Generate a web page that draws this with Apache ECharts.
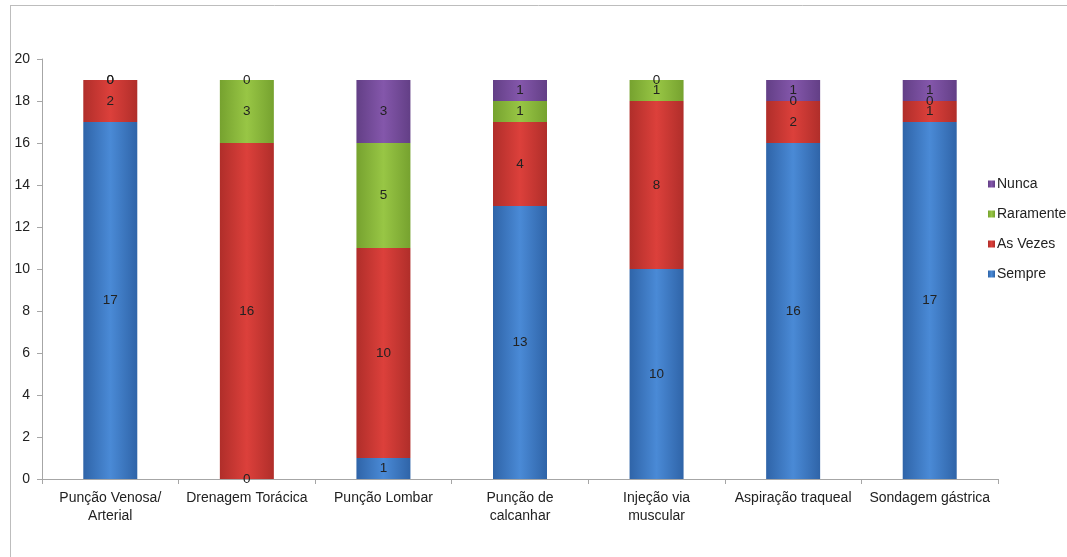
<!DOCTYPE html>
<html><head><meta charset="utf-8">
<script src="https://cdn.jsdelivr.net/npm/echarts@6/dist/echarts.min.js"></script>
<style>html,body{margin:0;padding:0;background:#fff}#c{width:1067px;height:557px}</style>
</head><body><div id="c"></div>
<script>
var categories = ['Punção Venosa/\nArterial','Drenagem Torácica','Punção Lombar','Punção de\ncalcanhar','Injeção via\nmuscular','Aspiração traqueal','Sondagem gástrica'];
var sempre = [17, 0, 1, 13, 10, 16, 17];
var asVezes = [2, 16, 10, 4, 8, 2, 1];
var raramente = [0, 3, 5, 1, 1, 0, 0];
var nunca = [0, 0, 3, 1, 0, 1, 1];
var yTicks = [0, 2, 4, 6, 8, 10, 12, 14, 16, 18, 20];

function grad(c1, c2, c3){
  return new echarts.graphic.LinearGradient(0,0,1,0,[{offset:0,color:c1},{offset:0.5,color:c2},{offset:1,color:c3}]);
}
var font = 'Liberation Sans, Arial, sans-serif';
function mk(name, data, c1, c2, c3){
  return {
    name: name, type: 'bar', stack: 'total', data: data, barWidth: 54,
    itemStyle: {color: grad(c1,c2,c3), borderWidth: 0},
    label: {show: true, position: 'inside', color: '#222', fontSize: 13.5, fontFamily: font,
      formatter: function(p){return String(p.value);}},
    labelLayout: {hideOverlap: false},
    emphasis: {disabled: true}
  };
}
var chart = echarts.init(document.getElementById('c'));
chart.setOption({
  animation: false,
  backgroundColor: '#fff',
  graphic: [
    {type:'line', shape:{x1:10,y1:5.5,x2:1067,y2:5.5}, style:{stroke:'#bdbdbd',lineWidth:1}},
    {type:'line', shape:{x1:10.5,y1:5,x2:10.5,y2:557}, style:{stroke:'#bdbdbd',lineWidth:1}}
  ],
  legend: {
    orient: 'vertical', left: 983, top: 171, itemGap: 14, itemWidth: 7, itemHeight: 7,
    icon: 'rect',
    data: ['Nunca','Raramente','As Vezes','Sempre'],
    textStyle: {fontSize: 14, color: '#222', fontFamily: font, padding: [0,0,0,-3], lineHeight: 16}
  },
  grid: {left: 42, right: 69, top: 59, bottom: 78, containLabel: false},
  xAxis: {
    type: 'category', data: categories,
    axisLine: {lineStyle: {color: '#a6a6a6'}},
    axisTick: {show: true, alignWithLabel: false, length: 5, lineStyle:{color:'#a6a6a6'}},
    axisLabel: {color: '#222', fontSize: 14, fontFamily: font, interval: 0, margin: 10, lineHeight: 18}
  },
  yAxis: {
    type: 'value', min: 0, max: 20, interval: 2,
    axisLine: {show: true, lineStyle: {color: '#a6a6a6'}},
    axisTick: {show: true, length: 5, lineStyle:{color:'#a6a6a6'}},
    splitLine: {show: false},
    axisLabel: {color: '#222', fontSize: 14, fontFamily: font, margin: 12,
      formatter: function(v){return yTicks.indexOf(v) >= 0 ? String(v) : '';}}
  },
  series: [
    mk('Sempre', sempre, '#2f64a8', '#4a8ad6', '#2f64a8'),
    mk('As Vezes', asVezes, '#b02e2a', '#dc403b', '#b02e2a'),
    mk('Raramente', raramente, '#76a22f', '#98c645', '#76a22f'),
    mk('Nunca', nunca, '#633f86', '#8457ab', '#633f86')
  ],
  color: ['#3d7cc9','#d83b36','#8cba3c','#7a4fa0']
});
</script></body></html>
